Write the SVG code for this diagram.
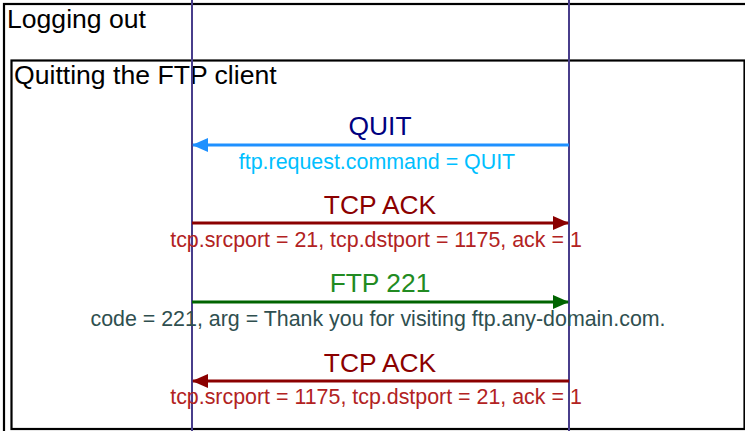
<svg xmlns="http://www.w3.org/2000/svg" width="745" height="431" viewBox="0 0 745 431">
<defs>
<style>
text{font-family:"Liberation Sans",Arial,sans-serif}
.frame{fill:none;stroke:#000;stroke-width:2.2}
.ftitle{font-size:26.6px;fill:#000}
.life{stroke:#483D8B;stroke-width:2}
.msg{font-size:26.4px;text-anchor:middle}
.lbl{font-size:21.4px;text-anchor:middle}
.arr{stroke-width:3;fill:none}
</style>
<marker id="hBlue" viewBox="0 0 16 14" refX="15" refY="7" markerWidth="16" markerHeight="14" markerUnits="userSpaceOnUse" orient="auto"><path d="M0,0 L16,7 L0,14 Z" fill="#1E90FF"/></marker>
<marker id="hRed" viewBox="0 0 16 14" refX="15" refY="7" markerWidth="16" markerHeight="14" markerUnits="userSpaceOnUse" orient="auto"><path d="M0,0 L16,7 L0,14 Z" fill="#8B0000"/></marker>
<marker id="hGreen" viewBox="0 0 16 14" refX="15" refY="7" markerWidth="16" markerHeight="14" markerUnits="userSpaceOnUse" orient="auto"><path d="M0,0 L16,7 L0,14 Z" fill="#006400"/></marker>
</defs>
<rect width="745" height="431" fill="#fff"/>
<g id="frame-logging-out">
<rect class="frame" x="4" y="4" width="760" height="440"/>
<text class="ftitle" x="7" y="28">Logging out</text>
</g>
<g id="frame-quitting">
<rect class="frame" x="11.5" y="60.5" width="733" height="368.5"/>
<text class="ftitle" x="14" y="84">Quitting the FTP client</text>
</g>
<g id="lifelines">
<line id="lifeline-client" class="life" x1="192" y1="0" x2="192" y2="431"/>
<line id="lifeline-server" class="life" x1="569" y1="0" x2="569" y2="431"/>
</g>
<g id="connectors">
<line class="arr" stroke="#1E90FF" x1="569" y1="145" x2="193" y2="145" marker-end="url(#hBlue)"/>
<line class="arr" stroke="#8B0000" x1="192" y1="223" x2="568" y2="223" marker-end="url(#hRed)"/>
<line class="arr" stroke="#006400" x1="192" y1="302" x2="568" y2="302" marker-end="url(#hGreen)"/>
<line class="arr" stroke="#8B0000" x1="569" y1="381" x2="193" y2="381" marker-end="url(#hRed)"/>
</g>
<g id="msg-quit">
<text class="msg" x="380" y="135" fill="#000080">QUIT</text>
<text class="lbl" x="377" y="169" fill="#00BFFF">ftp.request.command = QUIT</text>
</g>
<g id="msg-tcp-ack-1">
<text class="msg" x="380" y="214" fill="#8B0000">TCP ACK</text>
<text class="lbl" x="376" y="247" fill="#B22222">tcp.srcport = 21, tcp.dstport = 1175, ack = 1</text>
</g>
<g id="msg-ftp-221">
<text class="msg" x="380" y="292" fill="#228B22">FTP 221</text>
<text class="lbl" x="378" y="326" fill="#2F4F4F">code = 221, arg = Thank you for visiting ftp.any-domain.com.</text>
</g>
<g id="msg-tcp-ack-2">
<text class="msg" x="380" y="372" fill="#8B0000">TCP ACK</text>
<text class="lbl" x="376" y="404" fill="#B22222">tcp.srcport = 1175, tcp.dstport = 21, ack = 1</text>
</g>
</svg>
